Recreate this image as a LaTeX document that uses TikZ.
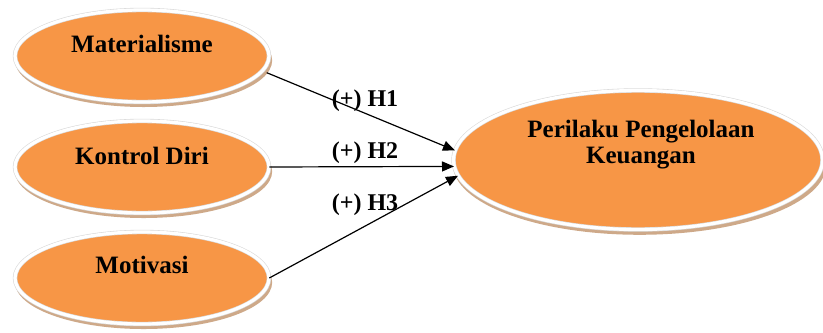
\documentclass[tikz,border=0pt]{standalone}
\usepackage{fontspec}
\setmainfont{Liberation Serif}
\usetikzlibrary{shadows,arrows.meta,shapes.geometric}
\definecolor{orfill}{HTML}{F79646}
\definecolor{shcol}{HTML}{C9A07C}
\definecolor{rimcol}{HTML}{D9D9D9}
\begin{document}
\begin{tikzpicture}[x=0.5pt,y=-0.5pt,
  oval/.style={ellipse, fill=orfill, draw=rimcol, double=white, double distance=1.6pt, line width=0.3pt,
    drop shadow={shadow xshift=0.8pt, shadow yshift=-2.2pt, shadow scale=1.012, fill=shcol, opacity=0.9}},
  small/.style={oval, minimum width=127pt, minimum height=46pt, inner sep=0pt},
  big/.style={oval, minimum width=184.5pt, minimum height=69.5pt, inner sep=0pt},
  lbl/.style={font=\bfseries\fontsize{12.5pt}{13pt}\selectfont, text=black, align=center, inner sep=0pt},
  hyp/.style={font=\bfseries\fontsize{12pt}{13pt}\selectfont, text=black, inner sep=0pt},
  conn/.style={draw=black, line width=0.6pt, -{Triangle[length=6pt,width=5pt]}}]
\useasboundingbox (0,0) rectangle (823,332);
\node[small] (m) at (142,56) {};
\node[small] (k) at (142,167) {};
\node[small] (v) at (142,278) {};
\node[big] (p) at (638,160) {};
\node[lbl] (mt) at (142,44) {Materialisme};
\node[lbl] (kt) at (142,156) {Kontrol Diri};
\node[lbl] (vt) at (142,265) {Motivasi};
\node[lbl] (pt) at (641,145) {Perilaku Pengelolaan\\Keuangan};
\draw[conn] ([xshift=3pt]m.-8) -- (p.177);
\draw[conn] (k.east) -- (p.182.2);
\draw[conn] (v.east) -- (p.185.5);
\node[hyp] (h1) at (365,101) {(+) H1};
\node[hyp] (h2) at (365,153) {(+) H2};
\node[hyp] (h3) at (365,205) {(+) H3};
\end{tikzpicture}
\end{document}
